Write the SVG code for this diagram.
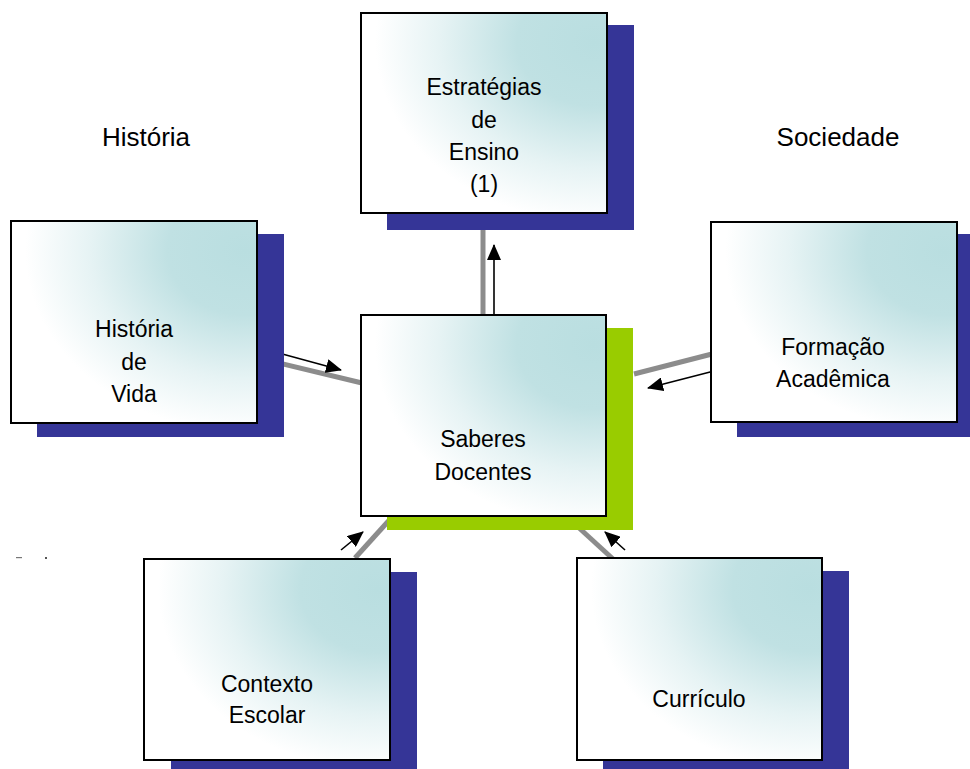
<svg xmlns="http://www.w3.org/2000/svg" width="970" height="769" viewBox="0 0 970 769">
<defs>
<radialGradient id="fill" cx="0.95" cy="0.15" r="1.05" fx="0.95" fy="0.15">
<stop offset="0" stop-color="#B9DEE0"/>
<stop offset="0.3" stop-color="#C0E1E3"/>
<stop offset="0.6" stop-color="#E6F3F4"/>
<stop offset="0.85" stop-color="#FFFFFF"/>
<stop offset="1" stop-color="#FFFFFF"/>
</radialGradient>
<marker id="ah" markerUnits="userSpaceOnUse" markerWidth="16" markerHeight="14" refX="15" refY="7" orient="auto">
<path d="M0,0 L16,7 L0,14 Z" fill="#000"/>
</marker>
<style>
.shadow{fill:#353597}
.green{fill:#99CC00}
.box{fill:url(#fill);stroke:#000;stroke-width:2}
.conn{stroke:#8C8C8C;stroke-width:5;fill:none}
.arr{stroke:#000;stroke-width:1.6;fill:none;marker-end:url(#ah)}
text{font-family:"Liberation Sans",Arial,sans-serif;fill:#000;text-anchor:middle}
.lbl{font-size:23px}
.big{font-size:26px}
</style>
</defs>
<rect width="970" height="769" fill="#FFFFFF"/>
<g id="connectors">
<line class="conn" x1="483" y1="213" x2="483" y2="316"/>
<line class="conn" x1="250" y1="356" x2="362" y2="383"/>
<line class="conn" x1="634" y1="374" x2="712" y2="354"/>
<line class="conn" x1="355" y1="558" x2="393" y2="516"/>
<line class="conn" x1="566" y1="516" x2="613" y2="559"/>
<line class="arr" x1="494" y1="315" x2="494" y2="245"/>
<line class="arr" x1="275" y1="352" x2="341" y2="370"/>
<line class="arr" x1="714" y1="371" x2="648" y2="388"/>
<line class="arr" x1="341" y1="550" x2="363" y2="532"/>
<line class="arr" x1="625" y1="550" x2="605" y2="532"/>
</g>
<g id="label-historia"><text class="big" x="146" y="146">História</text></g>
<g id="label-sociedade"><text class="big" x="838" y="146">Sociedade</text></g>
<g id="fragments">
<rect x="16" y="557" width="6" height="1.2" fill="#777"/>
<rect x="45" y="557" width="2" height="2" fill="#555"/>
</g>
<g id="node-estrategias">
<rect class="shadow" x="387" y="25" width="247" height="205"/>
<rect class="box" x="361" y="13" width="246" height="200"/>
<text class="lbl" x="484" y="95">Estratégias</text>
<text class="lbl" x="484" y="128">de</text>
<text class="lbl" x="484" y="160">Ensino</text>
<text class="lbl" x="484" y="192">(1)</text>
</g>
<g id="node-historia-vida">
<rect class="shadow" x="37" y="234" width="247" height="203"/>
<rect class="box" x="11" y="221" width="246" height="202"/>
<text class="lbl" x="134" y="337">História</text>
<text class="lbl" x="134" y="370">de</text>
<text class="lbl" x="134" y="402">Vida</text>
</g>
<g id="node-formacao">
<rect class="shadow" x="737" y="234" width="247" height="203"/>
<rect class="box" x="711" y="222" width="246" height="200"/>
<text class="lbl" x="833" y="355">Formação</text>
<text class="lbl" x="833" y="387">Acadêmica</text>
</g>
<g id="node-saberes">
<rect class="green" x="387" y="328" width="246" height="202"/>
<rect class="box" x="361" y="315" width="245" height="201"/>
<text class="lbl" x="483" y="447">Saberes</text>
<text class="lbl" x="483" y="480">Docentes</text>
</g>
<g id="node-contexto">
<rect class="shadow" x="171" y="572" width="246" height="203"/>
<rect class="box" x="144" y="559" width="246" height="201"/>
<text class="lbl" x="267" y="692">Contexto</text>
<text class="lbl" x="267" y="723">Escolar</text>
</g>
<g id="node-curriculo">
<rect class="shadow" x="603" y="571" width="246" height="203"/>
<rect class="box" x="577" y="558" width="245" height="202"/>
<text class="lbl" x="699" y="707">Currículo</text>
</g>
</svg>
